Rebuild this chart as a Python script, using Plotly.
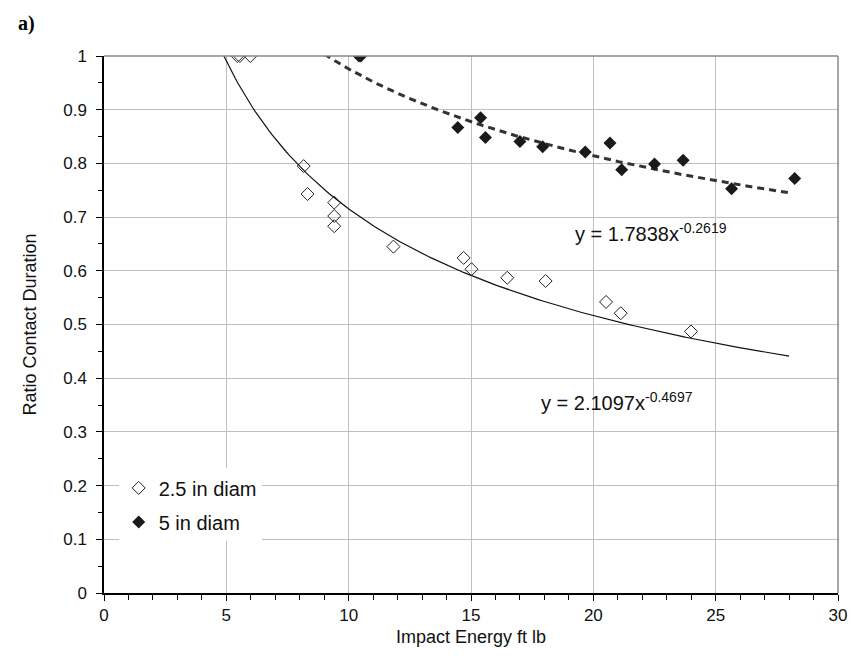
import numpy as np
import plotly.graph_objects as go

# ---- data ----
small_x = [5.45, 5.55, 5.98, 8.16, 8.32, 9.41, 9.41, 9.41, 11.83, 14.70, 15.02, 16.48, 18.05, 20.52, 21.12, 23.99]
small_y = [1.0, 1.0, 1.0, 0.795, 0.743, 0.727, 0.702, 0.683, 0.645, 0.624, 0.603, 0.587, 0.581, 0.542, 0.521, 0.487]

large_x = [10.42, 10.50, 14.46, 15.39, 15.59, 17.00, 17.93, 19.67, 20.68, 21.16, 22.50, 23.67, 25.65, 28.23]
large_y = [1.0, 1.0, 0.867, 0.885, 0.848, 0.841, 0.831, 0.821, 0.838, 0.788, 0.799, 0.806, 0.753, 0.772]

# power trendlines as printed on the chart: y = a * x^b
small_fit = (2.1097, -0.4697)
large_fit = (1.7838, -0.2619)
small_fit_range = (4.9, 28.0)
large_fit_range = (9.0, 28.0)

x_ticks = [0, 5, 10, 15, 20, 25, 30]
y_ticks = [0, 0.1, 0.2, 0.3, 0.4, 0.5, 0.6, 0.7, 0.8, 0.9, 1]

FONT = "Liberation Sans, Arial, sans-serif"


def fit_curve(coef, rng):
    xs = np.linspace(rng[0], rng[1], 200)
    return xs, coef[0] * xs ** coef[1]


fig = go.Figure()

sx, sy = fit_curve(small_fit, small_fit_range)
fig.add_trace(go.Scatter(x=sx, y=sy, mode="lines", showlegend=False,
                         line=dict(color="#111111", width=1.2), hoverinfo="skip"))
lx, ly = fit_curve(large_fit, large_fit_range)
fig.add_trace(go.Scatter(x=lx, y=ly, mode="lines", showlegend=False,
                         line=dict(color="#333333", width=3, dash="7px,5px"), hoverinfo="skip"))

fig.add_trace(go.Scatter(x=small_x, y=small_y, mode="markers", name="2.5 in diam",
                         legendgroup="a",
                         marker=dict(symbol="diamond-open", size=10, color="#222222",
                                     line=dict(width=1, color="#222222"))))
fig.add_trace(go.Scatter(x=large_x, y=large_y, mode="markers", name="5 in diam",
                         legendgroup="b",
                         marker=dict(symbol="diamond", size=10, color="#1a1a1a")))

fig.add_annotation(x=22.35, y=0.672, xref="x", yref="y",
                   text="y = 1.7838x<sup>-0.2619</sup>", showarrow=False,
                   font=dict(family=FONT, size=20, color="#111111"))
fig.add_annotation(x=20.95, y=0.356, xref="x", yref="y",
                   text="y = 2.1097x<sup>-0.4697</sup>", showarrow=False,
                   font=dict(family=FONT, size=20, color="#111111"))
fig.add_annotation(x=-0.12, y=1.085, xref="paper", yref="paper", xanchor="left", yanchor="top",
                   text="<b>a)</b>", showarrow=False,
                   font=dict(family="Liberation Serif, Times New Roman, serif", size=20, color="black"))

# plot frame top/right in gray
fig.add_shape(type="line", xref="paper", yref="paper", x0=0, x1=1, y0=1, y1=1,
              line=dict(color="#888888", width=1.5))
fig.add_shape(type="line", xref="paper", yref="paper", x0=1, x1=1, y0=0, y1=1,
              line=dict(color="#888888", width=1.5))

fig.update_layout(
    width=857, height=667,
    margin=dict(l=104, r=10, t=56, b=74),
    paper_bgcolor="white", plot_bgcolor="white",
    font=dict(family=FONT, size=17, color="#111111"),
    showlegend=True,
    legend=dict(x=0.02, y=0.232, xanchor="left", yanchor="top",
                bgcolor="white", borderwidth=0,
                font=dict(family=FONT, size=20, color="#111111"),
                traceorder="grouped", tracegroupgap=5),
    xaxis=dict(range=[0, 30], tickvals=x_ticks, ticktext=[str(v) for v in x_ticks],
               showgrid=True, gridcolor="#c0c0c0", gridwidth=1,
               showline=True, linecolor="black", linewidth=1.5,
               ticks="outside", ticklen=6, tickcolor="black", tickwidth=1,
               minor=dict(dtick=1, ticks="outside", ticklen=5, tickcolor="black", showgrid=False),
               zeroline=False,
               title=dict(text="Impact Energy ft lb", font=dict(family=FONT, size=18), standoff=6),
               tickfont=dict(family=FONT, size=17)),
    yaxis=dict(range=[0, 1], tickvals=y_ticks, ticktext=[("%g" % v) for v in y_ticks],
               showgrid=True, gridcolor="#c0c0c0", gridwidth=1,
               showline=True, linecolor="black", linewidth=1.5,
               ticks="outside", ticklen=6, tickcolor="black", tickwidth=1,
               ticklabelstandoff=6,
               minor=dict(dtick=0.05, ticks="outside", ticklen=4, tickcolor="black", showgrid=False),
               zeroline=False,
               title=dict(text="Ratio Contact Duration", font=dict(family=FONT, size=18), standoff=22),
               tickfont=dict(family=FONT, size=17)),
)

fig.write_html("out.html")
